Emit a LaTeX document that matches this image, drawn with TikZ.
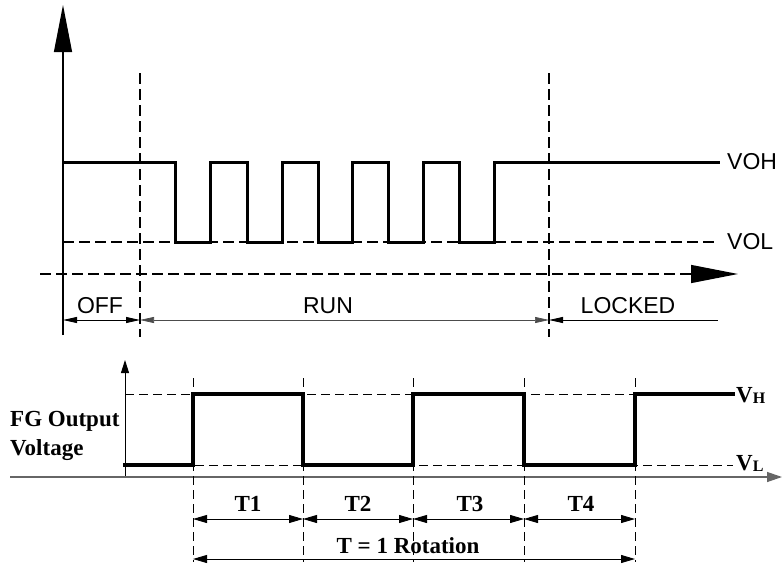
\documentclass[tikz,border=0pt]{standalone}
\usepackage{fontspec}
\setmainfont{Liberation Serif}
\setsansfont{Liberation Sans}
\usetikzlibrary{arrows.meta}
\begin{document}
\begin{tikzpicture}[x=1pt,y=-1pt,
  wave/.style={line width=3pt, line join=miter, line cap=rect},
  bwave/.style={line width=3.5pt, line join=miter, line cap=rect},
  dsh/.style={line width=1.3pt, dash pattern=on 11pt off 5pt},
  bdsh/.style={line width=0.9pt, dash pattern=on 9pt off 5pt},
  bigtip/.style={-{Triangle[length=47pt,width=18pt]}},
  dimt/.style={line width=0.9pt},
  dtip/.style={Triangle[length=14pt,width=6pt]},
  btip/.style={Triangle[length=14pt,width=8pt]},
  slbl/.style={font=\sffamily\fontsize{23}{26}\selectfont, inner sep=0pt},
  blbl/.style={font=\bfseries\fontsize{23}{26}\selectfont, inner sep=0pt},
]
\useasboundingbox (0,0) rectangle (782,565);

% ---------- top diagram ----------
\coordinate (yA0) at (63,335);
\coordinate (yA1) at (63,5);
\coordinate (xA0) at (40,274);
\coordinate (xA1) at (738,274);
\draw[line width=1.2pt, bigtip] (yA0) -- (yA1);
\draw[dsh, bigtip] (xA0) -- (xA1);

\coordinate (v1t) at (140,73);  \coordinate (v1b) at (140,337);
\coordinate (v2t) at (549,73);  \coordinate (v2b) at (549,337);
\draw[dsh] (v1t) -- (v1b);
\draw[dsh] (v2t) -- (v2b);

\coordinate (volA) at (63,242); \coordinate (volB) at (718,242);
\draw[dsh] (volA) -- (volB);

\draw[wave] (63,162) -- (175,162) -- (175,242) -- (210,242) -- (210,162)
  -- (247,162) -- (247,242) -- (282,242) -- (282,162)
  -- (318,162) -- (318,242) -- (352,242) -- (352,162)
  -- (388,162) -- (388,242) -- (423,242) -- (423,162)
  -- (459,162) -- (459,242) -- (494,242) -- (494,162) -- (718,162);

\node[slbl, anchor=west] (voh) at (727,162) {VOH};
\node[slbl, anchor=west] (vol) at (727,242) {VOL};

\coordinate (d0) at (63,320);
\coordinate (d1) at (140,320);
\coordinate (d2) at (549,320);
\coordinate (d3) at (718,320);
\draw[dimt, {Triangle[length=14pt,width=6pt]}-{Triangle[length=14pt,width=6pt]}] (d0) -- (d1);
\draw[line width=0.7pt, black!70, {Triangle[length=14pt,width=6pt]}-{Triangle[length=14pt,width=6pt]}] (d1) -- (d2);
\draw[dimt, {Triangle[length=14pt,width=6pt]}-] (d2) -- (d3);

\node[slbl] (off) at (100,306) {OFF};
\node[slbl] (run) at (328,306) {RUN};
\node[slbl] (locked) at (628,306) {LOCKED};

% ---------- bottom diagram ----------
\coordinate (by0) at (125,477);
\coordinate (by1) at (125,360);
\coordinate (bx0) at (10,477);
\coordinate (bx1) at (782,477);
\draw[line width=0.9pt, -{Triangle[length=13pt,width=8pt]}] (by0) -- (by1);
\draw[line width=1.3pt, black!60, -{Triangle[length=15pt,width=10pt]}] (bx0) -- (bx1);

\draw[bdsh] (125,394) -- (733,394);
\draw[bdsh] (125,465) -- (733,465);
\foreach \x/\n in {193/a,303/b,413/c,524/d,635/e}{
  \coordinate (t\n) at (\x,378);
  \coordinate (b\n) at (\x,562);
  \coordinate (m\n) at (\x,519);
  \coordinate (r\n) at (\x,559);
  \draw[bdsh] (t\n) -- (b\n);
}

\draw[bwave] (125,465) -- (193,465) -- (193,394) -- (303,394) -- (303,465)
  -- (413,465) -- (413,394) -- (524,394) -- (524,465) -- (635,465)
  -- (635,394) -- (733,394);

\node[blbl, anchor=west] (vh) at (736,395) {V\raisebox{-1pt}{\fontsize{16}{16}\selectfont H}};
\node[blbl, anchor=west] (vl) at (736,463) {V\raisebox{-1pt}{\fontsize{16}{16}\selectfont L}};

\node[blbl, anchor=west, align=left, font=\bfseries\fontsize{23}{29}\selectfont] (fg) at (10,436) {FG Output\\Voltage};

\draw[dimt, {Triangle[length=14pt,width=8pt]}-{Triangle[length=14pt,width=8pt]}] (ma) -- (mb);
\draw[dimt, {Triangle[length=14pt,width=8pt]}-{Triangle[length=14pt,width=8pt]}] (mb) -- (mc);
\draw[dimt, {Triangle[length=14pt,width=8pt]}-{Triangle[length=14pt,width=8pt]}] (mc) -- (md);
\draw[dimt, {Triangle[length=14pt,width=8pt]}-{Triangle[length=14pt,width=8pt]}] (md) -- (me);
\draw[dimt, {Triangle[length=14pt,width=8pt]}-{Triangle[length=14pt,width=8pt]}] (ra) -- (re);

\node[blbl] (T1) at (248,504) {T1};
\node[blbl] (T2) at (358,504) {T2};
\node[blbl] (T3) at (470,504) {T3};
\node[blbl] (T4) at (581,504) {T4};
\node[blbl] (TR) at (408,546) {T = 1 Rotation};
\end{tikzpicture}
\end{document}
